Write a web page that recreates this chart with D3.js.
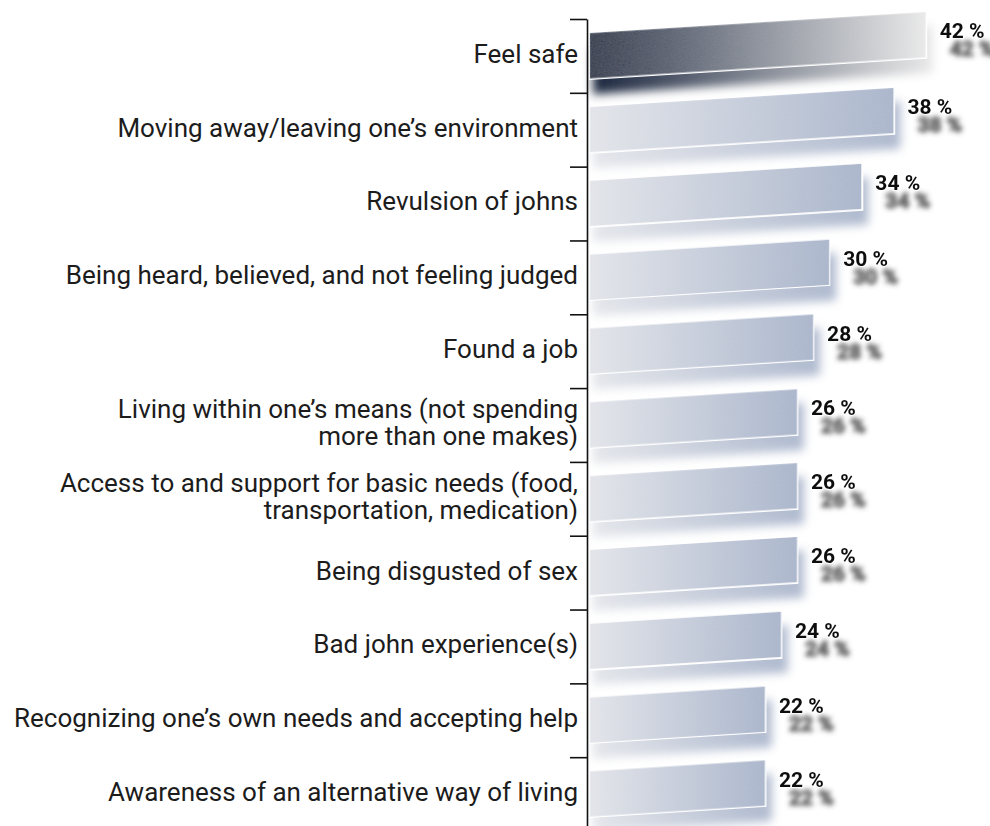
<!DOCTYPE html>
<html>
<head>
<meta charset="utf-8">
<script src="https://cdn.jsdelivr.net/npm/d3@7"></script>
<style>
  html, body { margin: 0; padding: 0; background: #ffffff; }
  svg { display: block; }
</style>
</head>
<body>
<script>
// Reasons given for leaving prostitution (share of respondents)
const categories = [
  "Feel safe",
  "Moving away/leaving one’s environment",
  "Revulsion of johns",
  "Being heard, believed, and not feeling judged",
  "Found a job",
  "Living within one’s means (not spending more than one makes)",
  "Access to and support for basic needs (food, transportation, medication)",
  "Being disgusted of sex",
  "Bad john experience(s)",
  "Recognizing one’s own needs and accepting help",
  "Awareness of an alternative way of living"
];
const labelLines = [
  ["Feel safe"],
  ["Moving away/leaving one’s environment"],
  ["Revulsion of johns"],
  ["Being heard, believed, and not feeling judged"],
  ["Found a job"],
  ["Living within one’s means (not spending", "more than one makes)"],
  ["Access to and support for basic needs (food,", "transportation, medication)"],
  ["Being disgusted of sex"],
  ["Bad john experience(s)"],
  ["Recognizing one’s own needs and accepting help"],
  ["Awareness of an alternative way of living"]
];
const values = [42, 38, 34, 30, 28, 26, 26, 26, 24, 22, 22];

const W = 990, H = 826;
const axisX = 587;
const barX0 = 589;
const skewDeg = -3.6;
const skewTan = Math.tan(skewDeg * Math.PI / 180);

const svg = d3.select("body").append("svg")
  .attr("width", W).attr("height", H);

const defs = svg.append("defs");

// Gradients: highlighted first bar, muted blue-grey for the rest
const gHi = defs.append("linearGradient").attr("id", "gradHi")
  .attr("x1", "0").attr("x2", "1").attr("y1", "0").attr("y2", "0");
gHi.append("stop").attr("offset", "0").attr("stop-color", "#1d2840");
gHi.append("stop").attr("offset", "0.45").attr("stop-color", "#7d838f");
gHi.append("stop").attr("offset", "1").attr("stop-color", "#e9e9e9");

const gLo = defs.append("linearGradient").attr("id", "gradLo")
  .attr("x1", "0").attr("x2", "1").attr("y1", "0").attr("y2", "0");
gLo.append("stop").attr("offset", "0").attr("stop-color", "#e2e4e9");
gLo.append("stop").attr("offset", "1").attr("stop-color", "#a7b3ca");

// Soft shadow blur for bars
defs.append("filter").attr("id", "barShadow")
  .attr("x", "-20%").attr("y", "-60%").attr("width", "140%").attr("height", "220%")
  .append("feGaussianBlur").attr("stdDeviation", 5);

// Value labels: blurred dark copy dropped below-right of the text
const ts = defs.append("filter").attr("id", "textShadow")
  .attr("filterUnits", "userSpaceOnUse")
  .attr("x", 0).attr("y", 0).attr("width", W).attr("height", H);
ts.append("feGaussianBlur").attr("in", "SourceAlpha").attr("stdDeviation", 2.8).attr("result", "blur");
ts.append("feOffset").attr("in", "blur").attr("dx", 10).attr("dy", 18).attr("result", "off");
ts.append("feFlood").attr("flood-color", "#3a3a3a").attr("flood-opacity", 0.8).attr("result", "col");
ts.append("feComposite").attr("in", "col").attr("in2", "off").attr("operator", "in").attr("result", "shadow");
const tsm = ts.append("feMerge");
tsm.append("feMergeNode").attr("in", "shadow");
tsm.append("feMergeNode").attr("in", "SourceGraphic");

// Fine grain over the bar fills
const grain = defs.append("filter").attr("id", "grain")
  .attr("x", "0").attr("y", "0").attr("width", "100%").attr("height", "100%");
grain.append("feTurbulence").attr("type", "fractalNoise")
  .attr("baseFrequency", 0.9).attr("numOctaves", 2).attr("seed", 3).attr("result", "noise");
grain.append("feColorMatrix").attr("in", "noise").attr("type", "matrix")
  .attr("values", "0 0 0 0 1  0 0 0 0 1  0 0 0 0 1  0 0 0 0.10 0").attr("result", "speck");
grain.append("feComposite").attr("in", "speck").attr("in2", "SourceGraphic")
  .attr("operator", "in").attr("result", "speckIn");
const gm = grain.append("feMerge");
gm.append("feMergeNode").attr("in", "SourceGraphic");
gm.append("feMergeNode").attr("in", "speckIn");

const x = d3.scaleLinear().domain([0, 50]).range([barX0, barX0 + 8.04 * 50]);
const y = d3.scaleBand().domain(categories).range([19, 831])
  .paddingInner(0.36).paddingOuter(0.18);

const fillFor = i => i === 0 ? "url(#gradHi)" : "url(#gradLo)";

// Skewed plotting layer
const skewG = svg.append("g")
  .attr("transform", `translate(${barX0},0) skewY(${skewDeg}) translate(${-barX0},0)`);

// Shadows first so bars sit on top
skewG.append("g").selectAll("rect")
  .data(values)
  .join("rect")
  .attr("x", barX0 + 4)
  .attr("y", (d, i) => y(categories[i]) + 15)
  .attr("width", d => x(d) - barX0 + 2)
  .attr("height", y.bandwidth())
  .attr("fill", (d, i) => fillFor(i))
  .attr("opacity", (d, i) => i === 0 ? 1 : 0.9)
  .attr("filter", "url(#barShadow)");

skewG.append("g").selectAll("rect")
  .data(values)
  .join("rect")
  .attr("x", barX0)
  .attr("y", (d, i) => y(categories[i]))
  .attr("width", d => x(d) - barX0)
  .attr("height", y.bandwidth())
  .attr("fill", (d, i) => fillFor(i))
  .attr("stroke", "#ffffff")
  .attr("stroke-width", 2)
  .attr("filter", "url(#grain)");

// Value labels at the (skewed) end of each bar
const labelPos = (d, i) => {
  const xe = x(d);
  const yc = y(categories[i]) + y.bandwidth() / 2 + skewTan * (xe - barX0);
  return [xe + 13, yc - 2];
};
svg.append("g")
  .attr("font-family", "Roboto, 'Noto Sans', sans-serif")
  .attr("font-weight", 700)
  .attr("font-size", 21)
  .attr("filter", "url(#textShadow)")
  .selectAll("text")
  .data(values)
  .join("text")
  .attr("x", (d, i) => labelPos(d, i)[0])
  .attr("y", (d, i) => labelPos(d, i)[1])
  .attr("dominant-baseline", "middle")
  .attr("fill", "#111")
  .attr("stroke", "#ffffff")
  .attr("stroke-width", 1.2)
  .attr("paint-order", "stroke")
  .text(d => `${d} %`);

// Category axis: line with ticks at band boundaries
const yEdge = d3.scaleLinear().domain([0, categories.length]).range([19, 831]);
const axisG = svg.append("g")
  .attr("transform", `translate(${axisX},0)`)
  .call(d3.axisLeft(yEdge)
    .tickValues(d3.range(categories.length + 1))
    .tickSize(17)
    .tickSizeOuter(0)
    .tickFormat(""));
axisG.selectAll("path, line").attr("stroke", "#111").attr("stroke-width", 1.6);

// Category labels, right-aligned against the axis
const catG = svg.append("g")
  .attr("font-family", "Roboto, 'Noto Sans', sans-serif")
  .attr("font-size", 26)
  .attr("fill", "#1c1c1c")
  .attr("text-anchor", "end");

const lineH = 27;
catG.selectAll("text")
  .data(labelLines)
  .join("text")
  .attr("transform", (d, i) => `translate(578,${y(categories[i]) + y.bandwidth() / 2})`)
  .each(function(lines) {
    const t = d3.select(this);
    lines.forEach((ln, k) => {
      t.append("tspan")
        .attr("x", 0)
        .attr("y", (k - (lines.length - 1) / 2) * lineH)
        .attr("dominant-baseline", "middle")
        .text(ln);
    });
  });
</script>
</body>
</html>
